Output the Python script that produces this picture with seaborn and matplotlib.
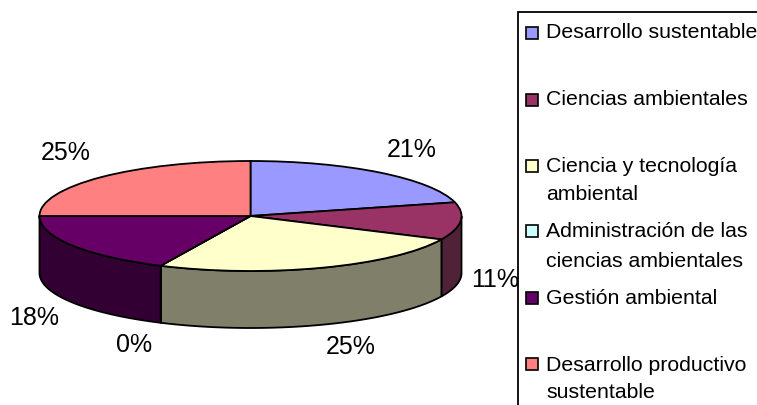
import numpy as np
import seaborn as sns
import matplotlib
matplotlib.use("Agg")
import matplotlib.pyplot as plt
from matplotlib.patches import Rectangle

categories = ["Desarrollo sustentable", "Ciencias ambientales",
              "Ciencia y tecnología\nambiental",
              "Administración de las\nciencias ambientales",
              "Gestión ambiental", "Desarrollo productivo\nsustentable"]
values = [21, 11, 25, 0, 18, 25]
top_colors = ["#9999FF", "#993366", "#FFFFCC", "#CCFFFF", "#660066", "#FF8080"]
side_colors = ["#66668A", "#4F2238", "#80806A", "#6A8080", "#330033", "#804040"]
pct_labels = ["21%", "11%", "25%", "0%", "18%", "25%"]

W, H = 757, 405
CX, CY, RX, RY, DEPTH = 250.5, 216, 211, 55, 57
EDGE = 1.3

sns.set_theme(style="white")
plt.rcParams["font.family"] = ["Liberation Sans", "DejaVu Sans"]
fig = plt.figure(figsize=(W / 100, H / 100), dpi=100)
ax = fig.add_axes([0, 0, 1, 1])

fracs = np.array(values) / sum(values)
edges = np.pi / 2 - 2 * np.pi * np.concatenate([[0], np.cumsum(fracs)])
d = DEPTH / RY
for i in range(len(values)):
    a = np.linspace(edges[i], edges[i + 1], 80)
    a = a[np.sin(a) <= 1e-9]
    if len(a) < 2:
        continue
    xs = np.cos(a)
    ys = np.sin(a)
    ax.fill(np.r_[xs, xs[::-1]], np.r_[ys, ys[::-1] - d],
            facecolor=side_colors[i], edgecolor="black", lw=EDGE, zorder=1)

ax.pie(values, colors=top_colors, startangle=90, counterclock=False, radius=1,
       center=(0, 0), frame=True, wedgeprops=dict(edgecolor="black", linewidth=EDGE))
ax.set_aspect("auto")
ax.set_xlim(-CX / RX, (W - CX) / RX)
ax.set_ylim((CY - H) / RY, CY / RY)
ax.axis("off")


def px(x, y):
    return (x - CX) / RX, (CY - y) / RY


pct_pos = [(412, 150), (495, 280), (351, 347), (134, 345), (34, 318), (66, 153)]
for lab, (x, y) in zip(pct_labels, pct_pos):
    ax.text(*px(x, y), lab, fontsize=18, ha="center", va="center", color="black")

ax.add_patch(Rectangle((518 / W, -0.1), 1, 1.1 - 12 / H, transform=fig.transFigure,
                       fill=False, edgecolor="black", lw=1.3, clip_on=False))
swatch_y = [33, 100, 166, 231, 298, 364]
line_baselines = [[38], [105], [172, 200], [237, 267], [304], [371, 398]]
for cat, col, sy, bases in zip(categories, top_colors, swatch_y, line_baselines):
    ax.add_patch(Rectangle((526 / W, 1 - (sy + 6) / H), 12 / W, 12 / H, transform=fig.transFigure,
                           facecolor=col, edgecolor="black", lw=1.2))
    for line, b in zip(cat.split("\n"), bases):
        ax.text(546 / W, 1 - b / H, line, transform=fig.transFigure, fontsize=15.3,
                va="baseline", ha="left", color="black")

fig.savefig("out.png", dpi=100, facecolor="white")
